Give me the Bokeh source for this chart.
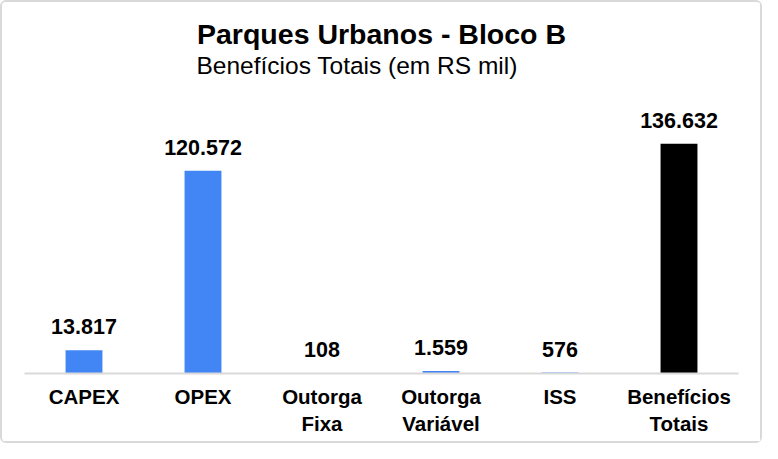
from bokeh.plotting import figure
from bokeh.models import ColumnDataSource, Title, Range1d
from bokeh.core.properties import value
from bokeh.embed import file_html
from bokeh.resources import INLINE

# ---- data ----
categories = ["CAPEX", "OPEX", "Outorga\nFixa", "Outorga\nVariável", "ISS", "Benefícios\nTotais"]
values = [13817, 120572, 108, 1559, 576, 136632]
value_labels = ["13.817", "120.572", "108", "1.559", "576", "136.632"]
title_text = "Parques Urbanos - Bloco B"
subtitle_text = "Benefícios Totais (em RS mil)"

BLUE = "#4285F4"
BLACK = "#000000"
GRID = "#d9d9d9"
FONT = "Liberation Sans"

colors = [BLUE] * (len(values) - 1) + [BLACK]

W, H = 762, 443
frame_top = 76
frame_bottom = 371
bar_px = 229.7  # pixel height of the largest bar
y_end = max(values) * (frame_bottom - frame_top) / bar_px

source = ColumnDataSource(dict(cat=categories, val=values, lab=value_labels, col=colors))

p = figure(
    x_range=categories,
    y_range=Range1d(0, y_end),
    width=W, height=H,
    output_backend="svg",
    toolbar_location=None,
    min_border_left=22, min_border_right=26,
    min_border_bottom=H - frame_bottom,
    min_border_top=frame_top,
    outline_line_color=None,
    background_fill_color="white",
    border_fill_color="white",
)
p.title.text = ""

sub = Title(text=subtitle_text, align="left", offset=172,
            text_font=FONT, text_font_size="24.5px", text_font_style="normal",
            text_color="#000000", standoff=0)
main = Title(text=title_text, align="center",
             text_font=FONT, text_font_size="28.5px", text_font_style="bold",
             text_color="#000000", standoff=0)
p.add_layout(sub, "above")
p.add_layout(main, "above")

p.vbar(x="cat", top="val", width=0.31, color="col", source=source, line_color=None)
p.text(x="cat", y="val", text="lab", source=source,
       text_font=value(FONT), text_font_size="21.5px", text_font_style="bold",
       text_align="center", text_baseline="bottom", y_offset=-16,
       text_color="#000000")

p.yaxis.visible = False
p.xgrid.visible = False
p.ygrid.visible = False
p.xaxis.axis_line_color = GRID
p.xaxis.axis_line_width = 2
p.xaxis.major_tick_line_color = None
p.xaxis.minor_tick_line_color = None
p.xaxis.major_label_standoff = 5
p.xaxis.major_label_text_font = FONT
p.xaxis.major_label_text_font_size = "20.5px"
p.xaxis.major_label_text_font_style = "bold"
p.xaxis.major_label_text_color = "#000000"
p.xaxis.major_label_text_align = "center"

p.styles = {"border": "2px solid #d9d9d9", "border-radius": "6px", "box-sizing": "border-box"}

open("out.html", "w").write(file_html(p, INLINE))
